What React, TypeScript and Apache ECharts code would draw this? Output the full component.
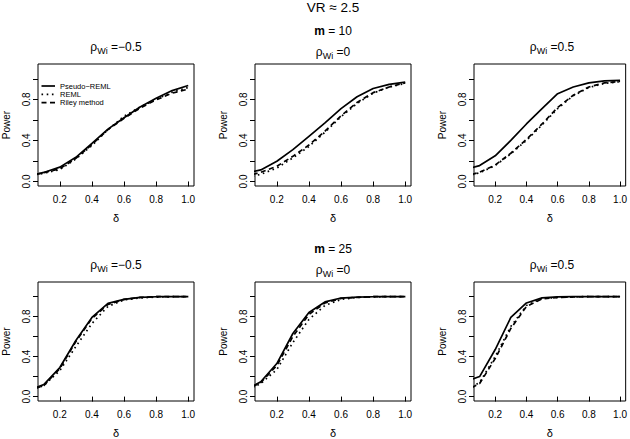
import React, { useEffect, useRef } from 'react';
import * as echarts from 'echarts';

// ---- data ----
const delta = [0.05, 0.1, 0.2, 0.3, 0.4, 0.5, 0.6, 0.7, 0.8, 0.9, 1.0];
const xTicks = [0.2, 0.4, 0.6, 0.8, 1.0];
const yTicks = [0, 0.2, 0.4, 0.6, 0.8, 1.0];
const yLabelTicks = [0, 0.4, 0.8];
const rhoLabels = ['−0.5', '0', '0.5'];
const mLabels = ['10', '25'];
const legendLabels = ['Pseudo−REML', 'REML', 'Riley method'];
const mainTitle = 'VR ≈ 2.5';

// m = 10
const m10_rhoNeg_pseudo = [0.068, 0.088, 0.14, 0.235, 0.37, 0.51, 0.62, 0.725, 0.81, 0.885, 0.935];
const m10_rhoNeg_reml = [0.065, 0.08, 0.115, 0.22, 0.35, 0.505, 0.635, 0.725, 0.8, 0.87, 0.915];
const m10_rhoNeg_riley = [0.068, 0.085, 0.125, 0.225, 0.36, 0.505, 0.615, 0.715, 0.795, 0.86, 0.9];

const m10_rho0_pseudo = [0.095, 0.113, 0.197, 0.31, 0.44, 0.57, 0.71, 0.825, 0.905, 0.945, 0.968];
const m10_rho0_reml = [0.052, 0.07, 0.13, 0.23, 0.34, 0.48, 0.63, 0.76, 0.86, 0.92, 0.955];
const m10_rho0_riley = [0.068, 0.09, 0.148, 0.245, 0.355, 0.49, 0.64, 0.77, 0.865, 0.92, 0.96];

const m10_rhoPos_pseudo = [0.133, 0.155, 0.25, 0.4, 0.56, 0.71, 0.855, 0.92, 0.96, 0.98, 0.985];
const m10_rhoPos_reml = [0.064, 0.085, 0.155, 0.27, 0.4, 0.55, 0.71, 0.835, 0.915, 0.955, 0.972];
const m10_rhoPos_riley = [0.068, 0.09, 0.16, 0.275, 0.41, 0.56, 0.72, 0.84, 0.92, 0.96, 0.975];

// m = 25
const m25_rhoNeg_pseudo = [0.088, 0.12, 0.29, 0.56, 0.79, 0.93, 0.97, 0.99, 0.997, 0.998, 0.998];
const m25_rhoNeg_reml = [0.082, 0.11, 0.26, 0.5, 0.73, 0.9, 0.965, 0.985, 0.993, 0.997, 0.998];
const m25_rhoNeg_riley = [0.082, 0.11, 0.28, 0.55, 0.78, 0.92, 0.97, 0.99, 0.997, 0.998, 0.998];

const m25_rho0_pseudo = [0.104, 0.148, 0.33, 0.63, 0.84, 0.945, 0.984, 0.993, 0.997, 0.998, 0.998];
const m25_rho0_reml = [0.09, 0.13, 0.27, 0.54, 0.77, 0.91, 0.97, 0.99, 0.995, 0.998, 0.998];
const m25_rho0_riley = [0.1, 0.14, 0.31, 0.6, 0.82, 0.935, 0.98, 0.99, 0.997, 0.998, 0.998];

const m25_rhoPos_pseudo = [0.172, 0.2, 0.47, 0.79, 0.935, 0.985, 0.995, 0.998, 0.998, 0.998, 0.998];
const m25_rhoPos_reml = [0.1, 0.14, 0.4, 0.7, 0.91, 0.98, 0.99, 0.996, 0.998, 0.998, 0.998];
const m25_rhoPos_riley = [0.09, 0.13, 0.38, 0.68, 0.9, 0.975, 0.99, 0.995, 0.998, 0.998, 0.998];

const panels = [
  { row: 0, col: 0, pseudo: m10_rhoNeg_pseudo, reml: m10_rhoNeg_reml, riley: m10_rhoNeg_riley },
  { row: 0, col: 1, pseudo: m10_rho0_pseudo, reml: m10_rho0_reml, riley: m10_rho0_riley },
  { row: 0, col: 2, pseudo: m10_rhoPos_pseudo, reml: m10_rhoPos_reml, riley: m10_rhoPos_riley },
  { row: 1, col: 0, pseudo: m25_rhoNeg_pseudo, reml: m25_rhoNeg_reml, riley: m25_rhoNeg_riley },
  { row: 1, col: 1, pseudo: m25_rho0_pseudo, reml: m25_rho0_reml, riley: m25_rho0_riley },
  { row: 1, col: 2, pseudo: m25_rhoPos_pseudo, reml: m25_rhoPos_reml, riley: m25_rhoPos_riley },
];

// ---- layout ----
const FONT = '"Liberation Sans", Arial, Helvetica, sans-serif';
const COL_LEFT = [38, 255, 474];
const ROW_TOP = [64, 282];
const BOX_W = 156;
const BOX_H = 122;
const X_MIN = 0.064;
const X_MAX = 1.036;
const Y_MIN = -0.044;
const Y_MAX = 1.144;

const solidStyle = { color: '#000', width: 1.7, type: 'solid' as const };
const dottedStyle = { color: '#000', width: 1.7, type: [1.6, 3.6] as any };
const dashedStyle = { color: '#000', width: 1.7, type: [5, 3.5] as any };

function buildOption() {
  const grid: any[] = [];
  const xAxis: any[] = [];
  const yAxis: any[] = [];
  const series: any[] = [];
  const graphic: any[] = [];

  panels.forEach((p, i) => {
    const left = COL_LEFT[p.col];
    const top = ROW_TOP[p.row];
    grid.push({
      left, top, width: BOX_W, height: BOX_H,
      show: true, borderColor: '#000', borderWidth: 1, backgroundColor: 'transparent',
      containLabel: false,
    });
    xAxis.push({
      type: 'value', gridIndex: i, min: X_MIN, max: X_MAX,
      axisLine: { show: false },
      splitLine: { show: false },
      axisTick: { show: true, inside: false, length: 5, lineStyle: { color: '#000', width: 1 }, customValues: xTicks },
      axisLabel: {
        show: true, customValues: xTicks, margin: 8, color: '#000', fontSize: 10, fontFamily: FONT,
        formatter: (v: number) => v.toFixed(1),
      },
      name: 'δ', nameLocation: 'middle', nameGap: 26,
      nameTextStyle: { color: '#000', fontSize: 11, fontFamily: FONT },
    });
    yAxis.push({
      type: 'value', gridIndex: i, min: Y_MIN, max: Y_MAX,
      axisLine: { show: false },
      splitLine: { show: false },
      axisTick: { show: true, inside: false, length: 5, lineStyle: { color: '#000', width: 1 }, customValues: yTicks },
      axisLabel: {
        show: true, customValues: yLabelTicks, rotate: 90, margin: 7, color: '#000', fontSize: 10, fontFamily: FONT,
        formatter: (v: number) => v.toFixed(1),
      },
      name: 'Power', nameLocation: 'middle', nameGap: 27, nameRotate: 90,
      nameTextStyle: { color: '#000', fontSize: 10, fontFamily: FONT },
    });
    const mk = (arr: number[]) => delta.map((d, k) => [d, arr[k]]);
    series.push(
      { type: 'line', name: legendLabels[0], xAxisIndex: i, yAxisIndex: i, data: mk(p.pseudo), symbol: 'none', showSymbol: false, lineStyle: solidStyle, clip: true, z: 3 },
      { type: 'line', name: legendLabels[1], xAxisIndex: i, yAxisIndex: i, data: mk(p.reml), symbol: 'none', showSymbol: false, lineStyle: dottedStyle, clip: true, z: 2 },
      { type: 'line', name: legendLabels[2], xAxisIndex: i, yAxisIndex: i, data: mk(p.riley), symbol: 'none', showSymbol: false, lineStyle: dashedStyle, clip: true, z: 2 },
    );

    // panel title
    const cx = left + BOX_W / 2;
    const ty = p.col === 1 ? top - 12 : top - 17;
    graphic.push({
      type: 'text', x: cx, y: ty, z: 10,
      style: {
        text: `{r|ρ}{s|Wi}{r| =${rhoLabels[p.col]}}`,
        align: 'center', verticalAlign: 'middle', textAlign: 'center', textVerticalAlign: 'middle',
        fill: '#000',
        rich: {
          r: { fontSize: 12, fontFamily: FONT, lineHeight: 16, verticalAlign: 'middle', fill: '#000' },
          s: { fontSize: 9, fontFamily: FONT, lineHeight: 13, verticalAlign: 'bottom', fill: '#000' },
        },
      },
    });
  });

  // row titles (m = ...)
  const centerX = COL_LEFT[1] + BOX_W / 2;
  mLabels.forEach((m, r) => {
    graphic.push({
      type: 'text', x: centerX, y: ROW_TOP[r] - 33, z: 10,
      style: {
        text: `{b|m}{n| = ${m}}`,
        align: 'center', verticalAlign: 'middle', textAlign: 'center', textVerticalAlign: 'middle',
        fill: '#000',
        rich: {
          b: { fontSize: 12, fontWeight: 'bold', fontFamily: FONT, fill: '#000' },
          n: { fontSize: 12, fontFamily: FONT, fill: '#000' },
        },
      },
    });
  });

  // main title
  graphic.push({
    type: 'text', x: centerX, y: 7, z: 10,
    style: {
      text: mainTitle, fontSize: 13.5, fontFamily: FONT, fill: '#000',
      align: 'center', verticalAlign: 'middle', textAlign: 'center', textVerticalAlign: 'middle',
    },
  });

  // legend inside first panel
  const legX1 = 41.5, legX2 = 55, legTextX = 60;
  const legY = [86, 94.3, 102.6];
  const legStyles = [solidStyle, dottedStyle, dashedStyle];
  legendLabels.forEach((lab, k) => {
    graphic.push({
      type: 'line', z: 10,
      shape: { x1: legX1, y1: legY[k], x2: legX2, y2: legY[k] },
      style: { stroke: '#000', lineWidth: 1.7, lineDash: legStyles[k].type === 'solid' ? null : legStyles[k].type },
    });
    graphic.push({
      type: 'text', x: legTextX, y: legY[k], z: 10,
      style: {
        text: lab, fontSize: 7.5, fontFamily: FONT, fill: '#000',
        align: 'left', verticalAlign: 'middle', textAlign: 'left', textVerticalAlign: 'middle',
      },
    });
  });

  return {
    animation: false,
    backgroundColor: '#fff',
    grid, xAxis, yAxis, series, graphic,
  };
}

export default function App() {
  const ref = useRef<HTMLDivElement>(null);
  useEffect(() => {
    if (!ref.current) return;
    const chart = echarts.init(ref.current, null, { renderer: 'svg' });
    chart.setOption(buildOption() as any);
    return () => chart.dispose();
  }, []);
  return (
    <div
      ref={ref}
      style={{ position: 'fixed', left: 0, top: 0, width: 630, height: 439, background: '#fff' }}
    />
  );
}
